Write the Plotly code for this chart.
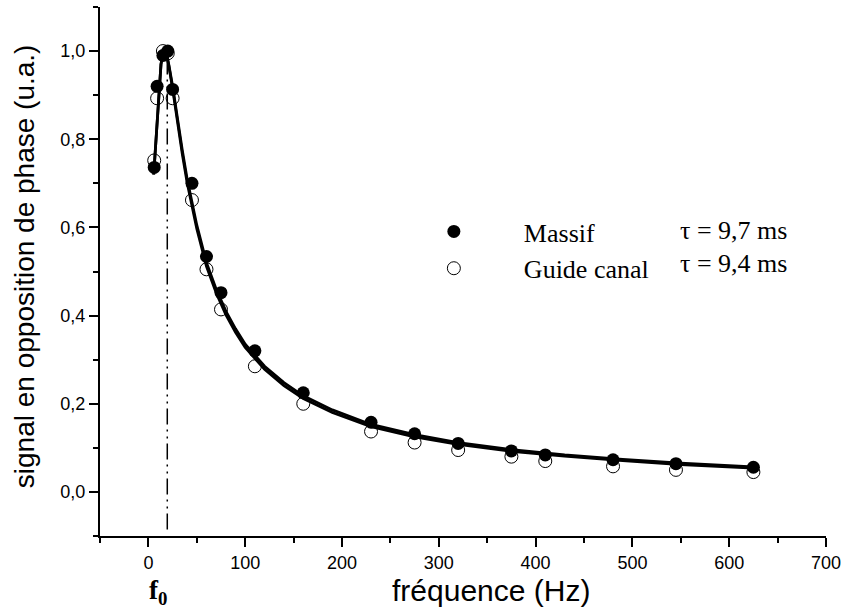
import plotly.graph_objects as go

# ---- data ----
freq = [6, 9, 15, 20, 25, 45, 60, 75, 110, 160, 230, 275, 320, 375, 410, 480, 545, 625]
massif = [0.736, 0.92, 0.99, 1.0, 0.913, 0.70, 0.534, 0.452, 0.32, 0.225, 0.158, 0.132, 0.11, 0.093, 0.084, 0.073, 0.064, 0.056]
guide = [0.752, 0.893, 1.0, 0.995, 0.893, 0.662, 0.505, 0.414, 0.285, 0.20, 0.137, 0.112, 0.095, 0.08, 0.07, 0.058, 0.05, 0.045]

curve_f = [5.5, 7, 9, 11, 13, 15, 17, 19, 21, 25, 30, 35, 40, 45, 50, 60, 70, 80, 90, 100,
           120, 140, 160, 190, 230, 275, 320, 375, 430, 490, 550, 625]
fit_massif = [0.72, 0.77, 0.85, 0.92, 0.97, 0.995, 1.0, 0.99, 0.97, 0.92, 0.845, 0.775, 0.71, 0.655, 0.605,
              0.52, 0.46, 0.41, 0.37, 0.335, 0.285, 0.248, 0.218, 0.186, 0.153, 0.130, 0.112, 0.096,
              0.084, 0.074, 0.065, 0.057]
fit_guide = [0.72, 0.77, 0.85, 0.92, 0.97, 0.995, 1.0, 0.99, 0.968, 0.915, 0.838, 0.767, 0.702, 0.647, 0.597,
             0.512, 0.452, 0.402, 0.362, 0.328, 0.278, 0.241, 0.212, 0.180, 0.148, 0.125, 0.108, 0.092,
             0.081, 0.071, 0.062, 0.054]

F0 = 19.5
tau_labels = ["τ = 9,7 ms", "τ = 9,4 ms"]
series_names = ["Massif", "Guide canal"]

fig = go.Figure()
fig.add_trace(go.Scatter(x=curve_f, y=fit_massif, mode="lines", line=dict(color="black", width=2.8),
                         showlegend=False, hoverinfo="skip"))
fig.add_trace(go.Scatter(x=curve_f, y=fit_guide, mode="lines", line=dict(color="black", width=2.8),
                         showlegend=False, hoverinfo="skip"))
fig.add_trace(go.Scatter(x=freq, y=massif, mode="markers", name=series_names[0], legendgroup="a",
                         marker=dict(symbol="circle", size=13, color="black")))
fig.add_trace(go.Scatter(x=freq, y=guide, mode="markers", name=series_names[1], legendgroup="b",
                         marker=dict(symbol="circle-open", size=13, color="black", line=dict(width=1))))

# f0 dash-dot-dot line
fig.add_shape(type="line", xref="x", yref="y", x0=F0, x1=F0, y0=-0.085, y1=0.98,
              line=dict(color="black", width=1.5, dash="16px,5px,2px,5px,2px,5px"))

fig.add_annotation(x=F0, y=-0.105, xref="x", yref="paper", xshift=-9, text="<b>f<sub>0</sub></b>",
                   showarrow=False, font=dict(family="Liberation Serif", size=27, color="black"),
                   xanchor="center", yanchor="middle")
fig.add_annotation(x=0.5386, y=-0.103, xref="paper", yref="paper", text="fréquence (Hz)",
                   showarrow=False, font=dict(family="Liberation Sans", size=30, color="black"),
                   xanchor="center", yanchor="middle")
fig.add_annotation(x=-0.1047, y=0.51, xref="paper", yref="paper", text="signal en opposition de phase (u.a.)",
                   textangle=-90, showarrow=False, font=dict(family="Liberation Sans", size=28, color="black"),
                   xanchor="center", yanchor="middle")
for i, t in enumerate(tau_labels):
    fig.add_annotation(x=0.796, y=[0.5766, 0.516][i], xref="paper", yref="paper", text=t,
                       showarrow=False, font=dict(family="Liberation Serif", size=26, color="black"),
                       xanchor="left", yanchor="middle")

fig.update_layout(
    width=846, height=613,
    margin=dict(l=100, r=20, t=7, b=77),
    paper_bgcolor="white", plot_bgcolor="white",
    separators=", ",
    font=dict(family="Liberation Sans", color="black"),
    legend=dict(x=0.391, y=0.62, xanchor="left", yanchor="top", bgcolor="rgba(0,0,0,0)",
                font=dict(family="Liberation Serif", size=26, color="black"),
                itemwidth=130, tracegroupgap=0),
    xaxis=dict(range=[-50, 700], tick0=0, dtick=100, showgrid=False, zeroline=False, automargin=False,
               showline=True, linecolor="black", linewidth=2,
               ticks="outside", ticklen=9, tickwidth=1.5, tickcolor="black",
               tickfont=dict(size=18, family="Liberation Sans"),
               minor=dict(dtick=50, ticks="outside", ticklen=5, tickwidth=1.5, tickcolor="black")),
    yaxis=dict(range=[-0.1, 1.1], tick0=0, dtick=0.2, tickformat=".1f", showgrid=False, zeroline=False,
               automargin=False,
               showline=True, linecolor="black", linewidth=2,
               ticks="outside", ticklen=9, tickwidth=1.5, tickcolor="black",
               tickfont=dict(size=18, family="Liberation Sans"),
               minor=dict(dtick=0.1, ticks="outside", ticklen=5, tickwidth=1.5, tickcolor="black")),
)

fig.write_html("out.html", config={"displayModeBar": False},
               post_script="document.body.style.margin='0px';")
